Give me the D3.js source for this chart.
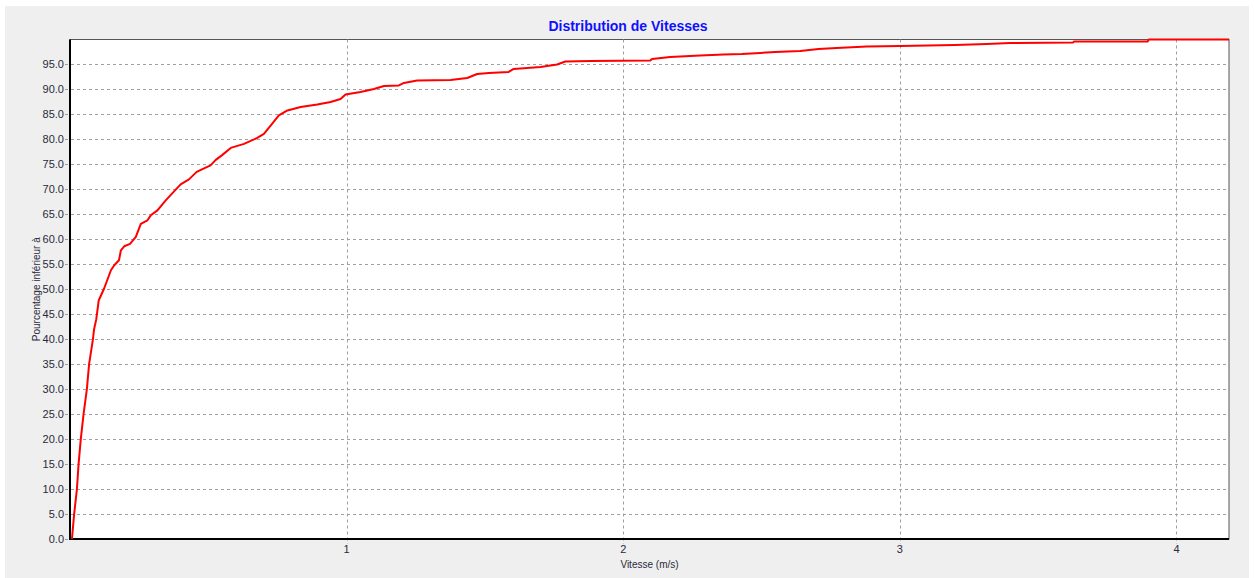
<!DOCTYPE html>
<html>
<head>
<meta charset="utf-8">
<script src="https://cdn.jsdelivr.net/npm/d3@7"></script>
<style>
    body { margin: 0; background: #ffffff; }
    text { font-family: "Liberation Sans", Arial, sans-serif; }
</style>
</head>
<body>
<div id="chart"></div>
<script>

// vitesse (m/s)
const speeds = [
    0.007, 0.015, 0.025, 0.031, 0.039, 0.049, 0.061, 0.069, 0.083, 0.087,
    0.095, 0.104, 0.123, 0.148, 0.160, 0.177, 0.184, 0.196, 0.217, 0.238,
    0.256, 0.280, 0.292, 0.316, 0.346, 0.383, 0.400, 0.430, 0.458, 0.473,
    0.508, 0.527, 0.551, 0.581, 0.629, 0.677, 0.701, 0.726, 0.755, 0.786,
    0.834, 0.894, 0.942, 0.978, 0.996, 1.050, 1.099, 1.135, 1.189, 1.207,
    1.255, 1.376, 1.436, 1.472, 1.514, 1.586, 1.604, 1.701, 1.761, 1.791,
    1.881, 2.098, 2.104, 2.170, 2.206, 2.278, 2.363, 2.429, 2.495, 2.549,
    2.640, 2.706, 2.772, 2.881, 3.001, 3.199, 3.314, 3.398, 3.626, 3.630,
    3.896, 3.900, 4.190
];

// pourcentage inferieur a
const percents = [
    0, 5, 10, 15, 20, 25, 30, 35, 40, 42,
    44, 47.8, 50.1, 53.8, 54.8, 55.8, 57.8, 58.6, 59.1, 60.5,
    63.1, 63.8, 64.8, 65.8, 67.8, 70, 71, 72, 73.5, 73.9,
    74.8, 75.9, 76.9, 78.3, 79.1, 80.3, 81.1, 82.8, 84.8, 85.8,
    86.5, 87.0, 87.5, 88.1, 89.0, 89.5, 90.1, 90.7, 90.8, 91.3,
    91.8, 91.9, 92.3, 93.1, 93.3, 93.5, 94.1, 94.5, 95.0, 95.6,
    95.7, 95.8, 96.1, 96.5, 96.6, 96.8, 97.0, 97.1, 97.3, 97.5,
    97.7, 98.1, 98.3, 98.6, 98.7, 98.9, 99.1, 99.3, 99.4, 99.6,
    99.6, 100, 100
];

const yTicks = d3.range(0, 100, 5);   // 0.0 ... 95.0
const xTicks = [1, 2, 3, 4];
const xMax = 4.19;

const chartTitle = "Distribution de Vitesses";
const xTitle = "Vitesse (m/s)";
const yTitle = "Pourcentage inférieur à";

const W = 1254, H = 578;
const margin = {top: 39.5, right: 25, bottom: 39, left: 70};

const svg = d3.select("#chart")
    .append("svg")
        .attr("width", W)
        .attr("height", H);

// panneau gris
svg.append("rect")
    .attr("x", 5)
    .attr("y", 6)
    .attr("width", 1244)
    .attr("height", H - 6)
    .attr("fill", "#efefef");

const x = d3.scaleLinear()
    .domain([0, xMax])
    .range([margin.left, W - margin.right]);

const y = d3.scaleLinear()
    .domain([0, 100])
    .range([H - margin.bottom, margin.top]);

// zone de trace
svg.append("rect")
    .attr("x", x(0))
    .attr("y", y(100))
    .attr("width", x(xMax) - x(0))
    .attr("height", y(0) - y(100))
    .attr("fill", "white")
    .attr("stroke", "#555")
    .attr("stroke-width", 1);

// grille horizontale + petits traits
svg.append("g")
    .selectAll("line")
    .data(yTicks)
    .join("line")
        .attr("x1", x(0) - 5)
        .attr("x2", x(xMax))
        .attr("y1", d => Math.round(y(d)) + 0.5)
        .attr("y2", d => Math.round(y(d)) + 0.5)
        .attr("stroke", "#a0a0a0")
        .attr("stroke-dasharray", "3,3");

// grille verticale
svg.append("g")
    .selectAll("line")
    .data(xTicks)
    .join("line")
        .attr("x1", d => Math.round(x(d)) + 0.5)
        .attr("x2", d => Math.round(x(d)) + 0.5)
        .attr("y1", y(100))
        .attr("y2", y(0) + 5)
        .attr("stroke", "#a0a0a0")
        .attr("stroke-dasharray", "3,3");

// libelles axe y
svg.append("g")
    .selectAll("text")
    .data(yTicks)
    .join("text")
        .attr("x", x(0) - 6)
        .attr("y", d => y(d) + 4)
        .attr("text-anchor", "end")
        .attr("font-size", "11px")
        .attr("fill", "#2a2a3a")
        .text(d => d.toFixed(1));

// libelles axe x
svg.append("g")
    .selectAll("text")
    .data(xTicks)
    .join("text")
        .attr("x", d => x(d))
        .attr("y", y(0) + 14)
        .attr("text-anchor", "middle")
        .attr("font-size", "11px")
        .attr("fill", "#2a2a3a")
        .text(d => d);

// axes noirs
svg.append("line")
    .attr("x1", x(0)).attr("x2", x(0))
    .attr("y1", y(100)).attr("y2", y(0) + 1)
    .attr("stroke", "black")
    .attr("stroke-width", 2);

svg.append("line")
    .attr("x1", x(0)).attr("x2", x(xMax))
    .attr("y1", y(0)).attr("y2", y(0))
    .attr("stroke", "black")
    .attr("stroke-width", 2);

// courbe
const line = d3.line()
    .x(d => x(d[0]))
    .y(d => y(d[1]));

svg.append("path")
    .datum(d3.zip(speeds, percents))
    .attr("d", line)
    .attr("fill", "none")
    .attr("stroke", "#ff0000")
    .attr("stroke-width", 2)
    .attr("stroke-linejoin", "round");

// titres
svg.append("text")
    .attr("x", 628)
    .attr("y", 31)
    .attr("text-anchor", "middle")
    .attr("font-size", "14px")
    .attr("font-weight", "bold")
    .attr("fill", "#1010ff")
    .text(chartTitle);

svg.append("text")
    .attr("x", (x(0) + x(xMax)) / 2)
    .attr("y", 568)
    .attr("text-anchor", "middle")
    .attr("font-size", "10px")
    .attr("fill", "#2a2a3a")
    .text(xTitle);

svg.append("text")
    .attr("transform", `translate(40,${(y(0) + y(100)) / 2}) rotate(-90)`)
    .attr("text-anchor", "middle")
    .attr("font-size", "10px")
    .attr("fill", "#2a2a3a")
    .text(yTitle);

</script>
</body>
</html>
